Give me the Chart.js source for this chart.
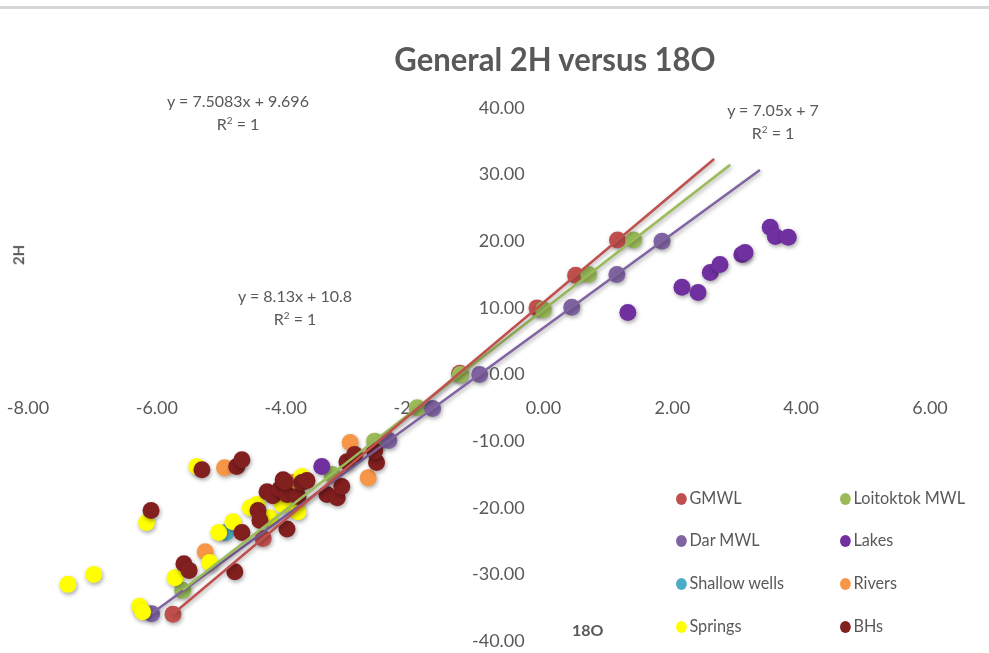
<!DOCTYPE html>
<html>
<head>
<meta charset="utf-8">
<script src="https://cdn.jsdelivr.net/npm/chart.js@4.4.1/dist/chart.umd.min.js"></script>
<style>
  html, body { margin: 0; padding: 0; background: #ffffff; }
  #wrap { position: relative; width: 989px; height: 653px; overflow: hidden; font-family: Lato, "Open Sans", sans-serif; color: #595959; }
  #topline { position: absolute; left: 0; top: 6px; width: 989px; height: 3px; background: #d6d6d6; }
  canvas { position: absolute; left: 0; top: 0; }
  #title { position: absolute; left: 555px; top: 38px; font-size: 33px; line-height: 40px; font-weight: bold; white-space: nowrap; transform: translateX(-50%) scaleX(0.94); }
  .eq { position: absolute; font-size: 16px; line-height: 23px; text-align: center; white-space: nowrap; transform: translateX(-50%); }
  .axt { position: absolute; font-weight: bold; white-space: nowrap; }
  #legend { position: absolute; left: 0; top: 0; }
  .li { position: absolute; font-size: 18px; white-space: nowrap; line-height: 20px; transform: scaleX(0.9); transform-origin: left center; }
  .li span.dot { display: inline-block; width: 12px; height: 12px; border-radius: 50%; margin-right: 3px; vertical-align: -1px; }
</style>
</head>
<body>
<div id="wrap">
  <canvas id="c" width="989" height="653"></canvas>
  <div id="topline"></div>
  <div id="title">General 2H versus 18O</div>
  <div class="eq" style="left:238px; top:89px;">y = 7.5083x + 9.696<br>R<sup style="font-size:10px;line-height:0;">2</sup> = 1</div>
  <div class="eq" style="left:295px; top:284px;">y = 8.13x + 10.8<br>R<sup style="font-size:10px;line-height:0;">2</sup> = 1</div>
  <div class="eq" style="left:773px; top:98px;">y = 7.05x + 7<br>R<sup style="font-size:10px;line-height:0;">2</sup> = 1</div>
  <div class="axt" style="left:8px; top:246px; font-size:15px; transform: rotate(-90deg);">2H</div>
  <div class="axt" style="left:572px; top:620px; font-size:16px;">18O</div>
  <div id="legend"></div>
</div>
<script>
// ---- Data ----
const seriesNames = ["GMWL", "Loitoktok MWL", "Dar MWL", "Lakes", "Shallow wells", "Rivers", "Springs", "BHs"];
const seriesColors = ["#C0504D", "#9BBB59", "#8064A2", "#7030A0", "#4BACC6", "#F79646", "#FFFF00", "#821F1F"];

const gmwlX = [-5.75, -4.35, -2.60, -1.30, -0.10, 0.50, 1.15];
const gmwlY = [-36.0, -24.6, -10.3, 0.2, 10.0, 14.9, 20.2];

const loitoktokX = [-5.60, -3.28, -2.62, -1.96, -1.29, 0.00, 0.70, 1.40];
const loitoktokY = [-32.4, -15.0, -10.0, -5.0, 0.0, 9.7, 15.0, 20.2];

const darX = [-6.08, -2.40, -1.72, -0.99, 0.44, 1.14, 1.84];
const darY = [-35.9, -9.9, -5.1, 0.0, 10.1, 15.0, 20.0];

const lakesX = [-3.44, 1.31, 2.15, 2.40, 2.59, 2.74, 3.08, 3.13, 3.52, 3.60, 3.80];
const lakesY = [-13.8, 9.3, 13.1, 12.3, 15.3, 16.5, 18.0, 18.3, 22.1, 20.7, 20.6];

const shallowX = [-4.93];
const shallowY = [-23.7];

const riversX = [-4.95, -5.25, -3.00, -2.72, -3.90];
const riversY = [-14.0, -26.6, -10.2, -15.5, -16.2];

const springsX = [-7.38, -6.98, -6.27, -6.22, -6.16, -5.72, -5.18, -5.04, -4.82, -5.38, -4.45, -4.55, -4.25, -4.05, -3.75, -3.81];
const springsY = [-31.5, -30.0, -34.8, -35.6, -22.2, -30.5, -28.2, -23.7, -22.1, -13.8, -19.5, -20.0, -21.5, -19.5, -15.3, -20.6];

const bhX = [-5.30, -4.76, -4.68, -6.09, -5.58, -5.50, -4.79, -4.68, -4.43, -4.40, -4.29, -4.20, -4.09, -4.04, -3.98, -3.98, -3.81, -3.75, -3.67, -3.36, -3.20, -3.13, -3.05, -2.93, -2.59, -2.62, -4.01];
const bhY = [-14.3, -13.8, -12.8, -20.4, -28.4, -29.4, -29.6, -23.7, -20.4, -21.9, -17.6, -18.2, -17.2, -15.8, -18.0, -23.2, -18.3, -16.2, -15.9, -18.0, -18.5, -16.8, -13.1, -12.0, -13.2, -11.5, -16.1];

// Linear trendlines (equations shown on the chart) and their drawn x-extent
const trendSlopes = [8.13, 7.5083, 7.05];
const trendIntercepts = [10.8, 9.696, 7];
const trendXStart = [-5.75, -5.60, -6.08];
const trendXEnd = [2.65, 2.90, 3.36];

const xTicks = [-8, -6, -4, -2, 0, 2, 4, 6];
const yTicks = [-40, -30, -20, -10, 0, 10, 20, 30, 40];

// ---- Build datasets ----
function pts(xs, ys) { return xs.map((x, i) => ({ x: x, y: ys[i] })); }
const seriesData = [
  pts(gmwlX, gmwlY), pts(loitoktokX, loitoktokY), pts(darX, darY), pts(lakesX, lakesY),
  pts(shallowX, shallowY), pts(riversX, riversY), pts(springsX, springsY), pts(bhX, bhY)
];

const datasets = [];
for (let i = 0; i < 3; i++) {
  const xs = [trendXStart[i], trendXEnd[i]];
  datasets.push({
    label: seriesNames[i] + " trend",
    data: xs.map(x => ({ x: x, y: trendSlopes[i] * x + trendIntercepts[i] })),
    showLine: true,
    borderColor: seriesColors[i],
    borderWidth: 2.5,
    pointRadius: 0,
    pointHoverRadius: 0,
    fill: false,
    order: 0
  });
}
seriesNames.forEach((name, i) => {
  datasets.push({
    label: name,
    data: seriesData[i],
    backgroundColor: seriesColors[i],
    borderColor: seriesColors[i],
    borderWidth: 0,
    pointRadius: 8.5,
    pointHoverRadius: 8.5,
    showLine: false,
    order: 20 - i
  });
});

const shadowPlugin = {
  id: 'shadow',
  beforeDatasetsDraw(chart) {
    const c = chart.ctx; c.save();
    c.shadowColor = 'rgba(0,0,0,0.35)';
    c.shadowBlur = 4; c.shadowOffsetX = 1; c.shadowOffsetY = 2;
  },
  afterDatasetsDraw(chart) { chart.ctx.restore(); }
};

function noPad(s) { s.paddingLeft = 0; s.paddingRight = 0; s.paddingTop = 0; s.paddingBottom = 0; }

const tickFont = { family: 'Lato', size: 18 };
new Chart(document.getElementById('c'), {
  type: 'scatter',
  data: { datasets: datasets },
  plugins: [shadowPlugin],
  options: {
    responsive: false,
    animation: false,
    devicePixelRatio: 1,
    layout: { padding: { left: 28, right: 59, top: 108, bottom: 12 } },
    plugins: {
      legend: { display: false },
      tooltip: { enabled: false },
      title: { display: false }
    },
    scales: {
      x: {
        type: 'linear', min: -8, max: 6,
        position: { y: 0 },
        grid: { display: false }, border: { display: false },
        afterFit: noPad,
        afterBuildTicks: (s) => { s.ticks = xTicks.map(v => ({ value: v })); },
        ticks: { autoSkip: false, maxRotation: 0, padding: 15, color: '#595959', font: tickFont,
                 callback: (v) => Number(v).toFixed(2) }
      },
      y: {
        type: 'linear', min: -40, max: 40,
        position: { x: -0.29 },
        grid: { display: false }, border: { display: false },
        afterFit: noPad,
        afterBuildTicks: (s) => { s.ticks = yTicks.map(v => ({ value: v })); },
        ticks: { autoSkip: false, padding: 0, color: '#595959', font: tickFont,
                 callback: (v) => Number(v).toFixed(2) }
      }
    }
  }
});

// ---- HTML legend from series names/colors ----
const legendPos = [[676, 487], [840, 487], [676, 529], [840, 529], [676, 572], [840, 572], [676, 615], [840, 615]];
const lg = document.getElementById('legend');
seriesNames.forEach((n, i) => {
  const d = document.createElement('div');
  d.className = 'li';
  d.style.left = legendPos[i][0] + 'px';
  d.style.top = legendPos[i][1] + 'px';
  d.innerHTML = '<span class="dot" style="background:' + seriesColors[i] + '"></span>' + n;
  lg.appendChild(d);
});
</script>
</body>
</html>
